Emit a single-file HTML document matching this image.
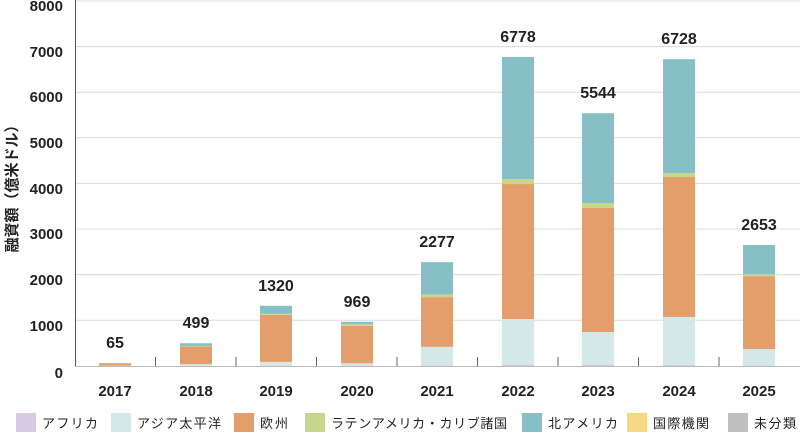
<!DOCTYPE html>
<html><head><meta charset="utf-8"><style>
body{margin:0;background:#fff;}
svg{display:block;font-family:"Liberation Sans","Noto Sans CJK JP",sans-serif;}
</style></head><body>
<svg width="800" height="435" viewBox="0 0 800 435">
<g stroke="#dcdcdc" stroke-width="1">
<line x1="75" x2="800" y1="1" y2="1"/><line x1="75" x2="800" y1="46.6" y2="46.6"/><line x1="75" x2="800" y1="92.2" y2="92.2"/><line x1="75" x2="800" y1="137.8" y2="137.8"/><line x1="75" x2="800" y1="183.4" y2="183.4"/><line x1="75" x2="800" y1="229" y2="229"/><line x1="75" x2="800" y1="274.6" y2="274.6"/><line x1="75" x2="800" y1="320.2" y2="320.2"/>
</g>
<line x1="75.5" x2="75.5" y1="0" y2="366" stroke="#555"/>
<line x1="75" x2="800" y1="366.5" y2="366.5" stroke="#bbb"/>
<g stroke="#666"><line x1="155.5" x2="155.5" y1="357" y2="366"/><line x1="236" x2="236" y1="357" y2="366"/><line x1="316.5" x2="316.5" y1="357" y2="366"/><line x1="397" x2="397" y1="357" y2="366"/><line x1="477.5" x2="477.5" y1="357" y2="366"/><line x1="558" x2="558" y1="357" y2="366"/><line x1="638.5" x2="638.5" y1="357" y2="366"/><line x1="719" x2="719" y1="357" y2="366"/></g>
<g font-size="15" font-weight="bold" fill="#222" text-anchor="end">
<text x="63" y="11">8000</text><text x="63" y="57">7000</text><text x="63" y="102">6000</text><text x="63" y="148">5000</text><text x="63" y="194">4000</text><text x="63" y="239">3000</text><text x="63" y="285">2000</text><text x="63" y="331">1000</text><text x="63" y="378">0</text>
</g>
<text transform="translate(17,185) rotate(-90)" text-anchor="middle" font-size="15" font-weight="bold" fill="#222">融資額（億米ドル）</text>
<g id="bars"></g>
<g font-size="15" font-weight="bold" fill="#222" text-anchor="middle">
<text x="115" y="396">2017</text><text x="196" y="396">2018</text><text x="276" y="396">2019</text><text x="357" y="396">2020</text><text x="437" y="396">2021</text><text x="518" y="396">2022</text><text x="598" y="396">2023</text><text x="679" y="396">2024</text><text x="759" y="396">2025</text>
</g>
<g font-size="13" fill="#222">
<rect x="16" y="413" width="20" height="19" fill="#d5cce3"/><text x="42" y="428" textLength="56">アフリカ</text>
<rect x="111" y="413" width="20" height="19" fill="#d5e8e8"/><text x="137" y="428" textLength="84">アジア太平洋</text>
<rect x="234" y="413" width="20" height="19" fill="#e39e6c"/><text x="260" y="428" textLength="28">欧州</text>
<rect x="305" y="413" width="20" height="19" fill="#c7d68a"/><text x="331" y="428" textLength="176">ラテンアメリカ・カリブ諸国</text>
<rect x="522" y="413" width="20" height="19" fill="#86bfc5"/><text x="548" y="428" textLength="70">北アメリカ</text>
<rect x="627" y="413" width="20" height="19" fill="#f5d884"/><text x="653" y="428" textLength="56">国際機関</text>
<rect x="728" y="413" width="20" height="19" fill="#c0c0c0"/><text x="754" y="428" textLength="42">未分類</text>
</g>
<g id="labels" font-size="16" font-weight="bold" fill="#222" text-anchor="middle"></g>
</svg>
<script>
var cx=[115,196,276,357,437,518,598,679,759];
var tot=[65,499,1320,969,2277,6778,5544,6728,2653];
var d=[[3,8,60,62,65],[5,40,430,440,499],[8,90,1120,1145,1320],[8,60,880,920,969],[10,420,1510,1570,2277],[30,1030,3990,4100,6778],[30,745,3465,3575,5544],[25,1075,4145,4230,6728],[10,370,1970,2010,2653]];
var col=["#d5cce3","#d5e8e8","#e39e6c","#c7d68a","#86bfc5"];
var g=document.getElementById("bars"),L=document.getElementById("labels"),ns="http://www.w3.org/2000/svg";
function y(v){return 366-v*0.0456;}
for(var i=0;i<9;i++){var prev=0;for(var k=0;k<5;k++){var r=document.createElementNS(ns,"rect");r.setAttribute("x",cx[i]-16);r.setAttribute("width",32);r.setAttribute("y",y(d[i][k]));r.setAttribute("height",Math.max(0,y(prev)-y(d[i][k])));r.setAttribute("fill",col[k]);g.appendChild(r);prev=d[i][k];}
var t=document.createElementNS(ns,"text");t.setAttribute("x",cx[i]);t.setAttribute("y",y(tot[i])-15);t.textContent=tot[i];L.appendChild(t);}
</script>
</body></html>
